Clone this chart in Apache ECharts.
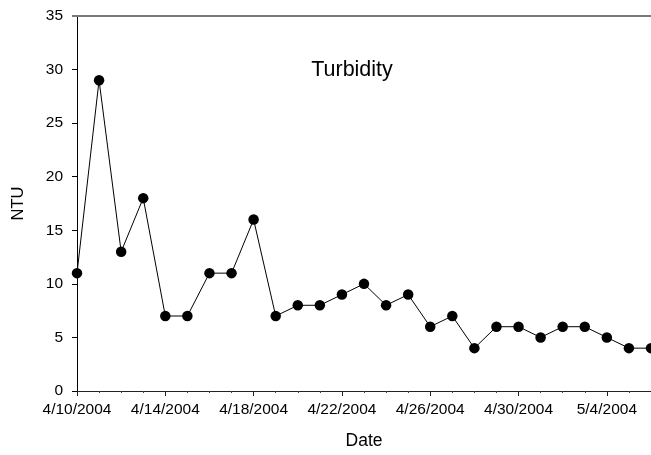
<!DOCTYPE html>
<html>
<head>
<meta charset="utf-8">
<script src="https://cdn.jsdelivr.net/npm/echarts@6/dist/echarts.min.js"></script>
<style>
  html, body { margin: 0; padding: 0; background: #fff; }
  #chart { width: 651px; height: 455px; }
</style>
</head>
<body>
<div id="chart"></div>
<script>
// Daily turbidity samples
const dates = [
  '4/10/2004', '4/11/2004', '4/12/2004', '4/13/2004', '4/14/2004', '4/15/2004',
  '4/16/2004', '4/17/2004', '4/18/2004', '4/19/2004', '4/20/2004', '4/21/2004',
  '4/22/2004', '4/23/2004', '4/24/2004', '4/25/2004', '4/26/2004', '4/27/2004',
  '4/28/2004', '4/29/2004', '4/30/2004', '5/1/2004', '5/2/2004', '5/3/2004',
  '5/4/2004', '5/5/2004', '5/6/2004'
];
const ntu = [
  11, 29, 13, 18, 7, 7,
  11, 11, 16, 7, 8, 8,
  9, 10, 8, 9, 6, 7,
  4, 6, 6, 5, 6, 6,
  5, 4, 4
];
const xTickLabels = ['4/10/2004', '4/14/2004', '4/18/2004', '4/22/2004', '4/26/2004', '4/30/2004', '5/4/2004'];
const yTicks = [0, 5, 10, 15, 20, 25, 30, 35];

const DAY = 86400000;
function toUTC(s) {
  const [m, d, y] = s.split('/').map(Number);
  return Date.UTC(y, m - 1, d);
}
const t0 = toUTC(dates[0]);
const dayOffset = s => Math.round((toUTC(s) - t0) / DAY);
const points = dates.map((d, i) => [dayOffset(d), ntu[i]]);
const lastDay = dayOffset(dates[dates.length - 1]);

const font = '"Liberation Sans", Arial, sans-serif';
const chart = echarts.init(document.getElementById('chart'), null, { renderer: 'canvas' });

chart.setOption({
  animation: false,
  backgroundColor: '#ffffff',
  grid: { left: 77, top: 16, width: 575, height: 375, containLabel: false },
  graphic: [{
    type: 'text',
    x: 352, y: 70,
    style: {
      text: 'Turbidity', fill: '#000', font: '21.5px ' + font,
      textAlign: 'center', textVerticalAlign: 'middle'
    }
  }, {
    // short stub of the top frame line left of the plot, level with the 35 tick
    type: 'line',
    shape: { x1: 72, y1: 16, x2: 78, y2: 16 },
    style: { stroke: '#7a7a7a', lineWidth: 2 },
    z: 10
  }],
  xAxis: [{
    type: 'value',
    min: 0, max: lastDay, interval: 4,
    name: 'Date', nameLocation: 'middle', nameGap: 41,
    nameTextStyle: { color: '#000', fontSize: 17.5, fontFamily: font },
    axisLine: { show: true, onZero: false, lineStyle: { color: '#222', width: 1 } },
    axisTick: { show: true, length: 5, lineStyle: { color: '#222', width: 1 } },
    minorTick: { show: true, splitNumber: 4, length: 2, lineStyle: { color: '#444', width: 1 } },
    splitLine: { show: false },
    axisLabel: {
      color: '#000', fontSize: 15.5, fontFamily: font, margin: 11,
      showMaxLabel: false,
      formatter: v => xTickLabels[v / 4] || ''
    }
  }, {
    type: 'value', position: 'top',
    min: 0, max: lastDay,
    axisLine: { show: true, onZero: false, lineStyle: { color: '#7a7a7a', width: 2 } },
    axisTick: { show: false }, axisLabel: { show: false }, splitLine: { show: false }
  }],
  yAxis: {
    type: 'value',
    min: yTicks[0], max: yTicks[yTicks.length - 1], interval: 5,
    name: 'NTU', nameLocation: 'middle', nameGap: 50, nameRotate: 90,
    nameTextStyle: { color: '#000', fontSize: 16.5, fontFamily: font },
    axisLine: { show: true, lineStyle: { color: '#000', width: 1 } },
    axisTick: { show: true, length: 5, lineStyle: { color: '#000', width: 1 } },
    splitLine: { show: false },
    axisLabel: { color: '#000', fontSize: 15.5, fontFamily: font, margin: 14 }
  },
  series: [{
    type: 'line',
    data: points,
    symbol: 'circle',
    symbolSize: 10.5,
    clip: true,
    itemStyle: { color: '#000' },
    lineStyle: { color: '#000', width: 1 }
  }]
});
</script>
</body>
</html>
